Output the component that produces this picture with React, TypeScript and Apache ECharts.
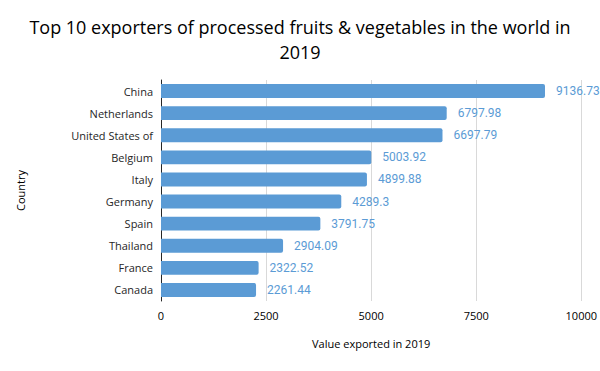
import React, { useEffect, useRef } from "react";
import * as echarts from "echarts";

const countries = ["China", "Netherlands", "United States of", "Belgium", "Italy", "Germany", "Spain", "Thailand", "France", "Canada"];
const values = [9136.73, 6797.98, 6697.79, 5003.92, 4899.88, 4289.3, 3791.75, 2904.09, 2322.52, 2261.44];
const xTicks = [0, 2500, 5000, 7500, 10000];

export default function App() {
  const ref = useRef<HTMLDivElement>(null);
  useEffect(() => {
    document.body.style.margin = "0";
    const chart = echarts.init(ref.current!, null, { renderer: "svg" });
    const font = "Open Sans, Liberation Sans, sans-serif";
    chart.setOption({
      animation: false,
      textStyle: { fontFamily: font },
      title: {
        text: "Top 10 exporters of processed fruits & vegetables in the world in\n2019",
        left: "center",
        top: 9,
        textStyle: { fontSize: 18, fontWeight: "normal", color: "#000", fontFamily: font, lineHeight: 25 },
      },
      grid: { left: 161, right: 18, top: 80, bottom: 70 },
      xAxis: {
        type: "value",
        min: xTicks[0],
        max: xTicks[xTicks.length - 1],
        interval: 2500,
        name: "Value exported in 2019",
        nameLocation: "middle",
        nameGap: 37,
        nameTextStyle: { fontSize: 11, color: "#000" },
        axisLine: { show: false },
        axisTick: { show: false },
        axisLabel: { fontSize: 11, color: "#000", margin: 9, formatter: (v: number) => String(v) },
        splitLine: { show: true, lineStyle: { color: "#d9d9d9" } },
      },
      yAxis: {
        type: "category",
        data: countries,
        inverse: true,
        name: "Country",
        nameLocation: "middle",
        nameGap: 135,
        nameTextStyle: { fontSize: 11, color: "#000" },
        axisLine: { show: true, lineStyle: { color: "#262626" } },
        axisTick: { show: false },
        axisLabel: { fontSize: 11, color: "#262626", margin: 8 },
      },
      series: [
        {
          type: "bar",
          data: values,
          barCategoryGap: "37%",
          itemStyle: { color: "#5b9bd5", borderRadius: [0, 2, 2, 0] },
          label: {
            show: true,
            position: "right",
            distance: 11,
            color: "#5b9bd5",
            fontSize: 12,
            fontFamily: "Roboto, sans-serif",
          },
        },
      ],
    });
    return () => chart.dispose();
  }, []);
  return <div ref={ref} style={{ width: 600, height: 371 }} />;
}
